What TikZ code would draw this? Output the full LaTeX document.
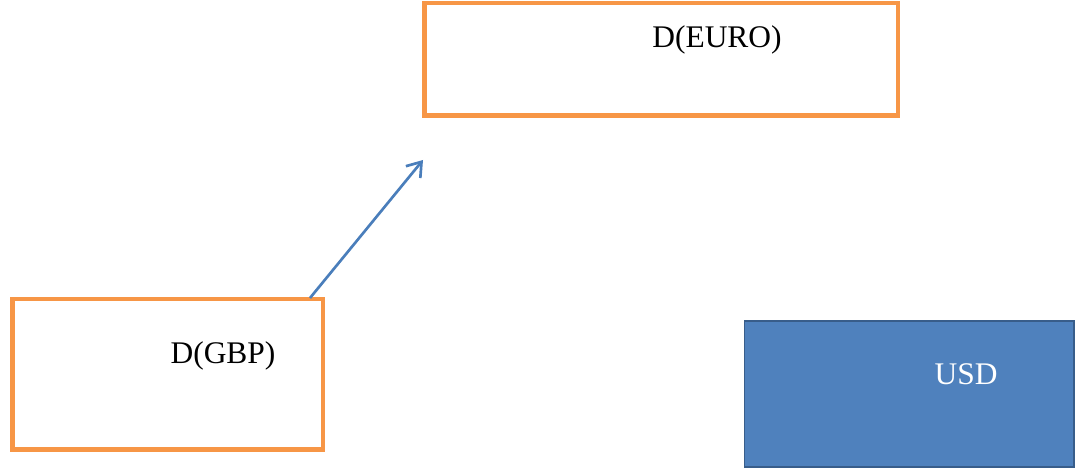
\documentclass[tikz,border=0pt]{standalone}
\usepackage{fontspec}
\setmainfont{Liberation Serif}
\usetikzlibrary{arrows.meta}
\definecolor{boxorange}{HTML}{F79646}
\definecolor{boxblue}{HTML}{4F81BD}
\definecolor{boxblueborder}{HTML}{385D8A}
\definecolor{arrowblue}{HTML}{4A7EBB}
\begin{document}
\begin{tikzpicture}[x=0.75pt,y=-0.75pt,
  obox/.style={draw=boxorange,line width=3.6pt,fill=white,inner sep=0pt,outer sep=0pt,anchor=north west},
  bbox/.style={draw=boxblueborder,line width=1.4pt,fill=boxblue,inner sep=0pt,outer sep=0pt,anchor=north west},
  lbl/.style={font=\fontsize{23.6}{28}\selectfont,inner sep=0pt,anchor=base},
  conn/.style={draw=arrowblue,line width=2pt,-{Straight Barb[length=10pt,width=14pt,line width=2pt]}}]
\useasboundingbox (0,0) rectangle (1077,474);
\node[obox,minimum width=473.5*0.75pt,minimum height=112.5*0.75pt] (euro) at (424.5,3) {};
\node[obox,minimum width=310.5*0.75pt,minimum height=150.5*0.75pt] (gbp) at (12.5,299) {};
\node[bbox,minimum width=329.5*0.75pt,minimum height=146*0.75pt] (usd) at (744.5,321) {};
\node[lbl] (teuro) at (717,48) {D(EURO)};
\node[lbl] (tgbp) at (223,363) {D(GBP)};
\node[lbl,text=white] (tusd) at (966,384) {USD};
\coordinate (gbpout) at (310,298);
\coordinate (tip) at (423,160);
\draw[conn] (gbpout) -- (tip);
\end{tikzpicture}
\end{document}
